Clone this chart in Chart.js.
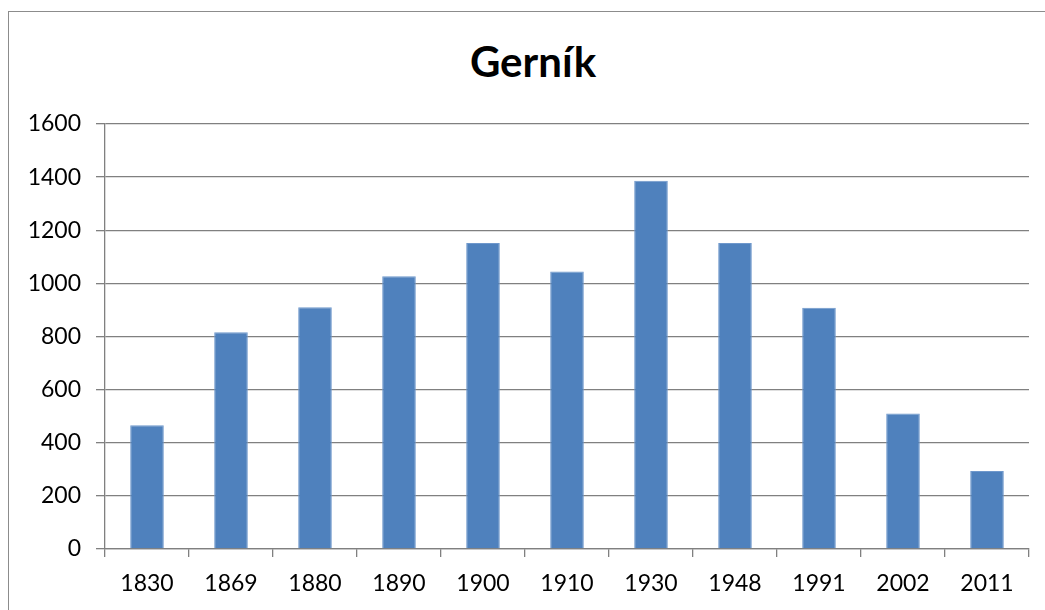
<!DOCTYPE html>
<html>
<head>
<meta charset="utf-8">
<script src="https://cdn.jsdelivr.net/npm/chart.js@4.4.0/dist/chart.umd.min.js"></script>
<style>
  body { margin: 0; background: #fff; }
  #ramik { position: absolute; left: 8px; top: 11px; width: 1100px; height: 700px;
           border-left: 1px solid #8c8c8c; border-top: 1px solid #8c8c8c; }
  #nadpis { position: absolute; left: 0; top: 40px; width: 1066px; margin: 0;
            text-align: center; font: bold 42px/42px Lato, sans-serif; color: #000; }
  #obal { position: absolute; left: 0; top: 0; width: 1045px; height: 610px; }
</style>
</head>
<body>
<div id="ramik"></div>
<h1 id="nadpis"></h1>
<div id="obal"><canvas id="graf"></canvas></div>
<script>
// roky a pocet obyvatelov
const roky = ['1830', '1869', '1880', '1890', '1900', '1910', '1930', '1948', '1991', '2002', '2011'];
const obyvatelia = [466, 816, 910, 1027, 1152, 1045, 1386, 1152, 908, 510, 294];
const nazov = 'Gerník';
const osY_min = 0, osY_max = 1600, osY_krok = 200;

const sediva = '#808080';
document.getElementById('nadpis').textContent = nazov;

new Chart(document.getElementById('graf'), {
  type: 'bar',
  data: {
    labels: roky,
    datasets: [{
      label: nazov,
      data: obyvatelia,
      backgroundColor: '#4f81bd',
      borderColor: '#6f98cc',
      borderWidth: { left: 1, right: 1, top: 1, bottom: 0 },
      barPercentage: 0.4,
      categoryPercentage: 1
    }]
  },
  options: {
    responsive: true,
    maintainAspectRatio: false,
    animation: false,
    layout: { padding: { left: 0, right: 16, top: 124, bottom: 0 } },
    plugins: {
      legend: { display: false },
      tooltip: { enabled: false },
      title: { display: false }
    },
    scales: {
      x: {
        grid: { drawOnChartArea: false, color: sediva, tickLength: 8, offset: true, lineWidth: 1.3 },
        border: { color: sediva, width: 1.3 },
        ticks: { color: '#000', font: { family: 'Lato', size: 23 }, padding: 13 },
        afterFit: (s) => { s.height = 61; }
      },
      y: {
        min: osY_min,
        max: osY_max,
        ticks: {
          stepSize: osY_krok, color: '#000', font: { family: 'Lato', size: 23 }, padding: 15,
          callback: (v) => String(v)
        },
        grid: { color: sediva, tickLength: 9, lineWidth: 1.3 },
        border: { color: sediva, width: 1.3 },
        afterFit: (s) => { s.width = 105; }
      }
    }
  }
});
</script>
</body>
</html>
